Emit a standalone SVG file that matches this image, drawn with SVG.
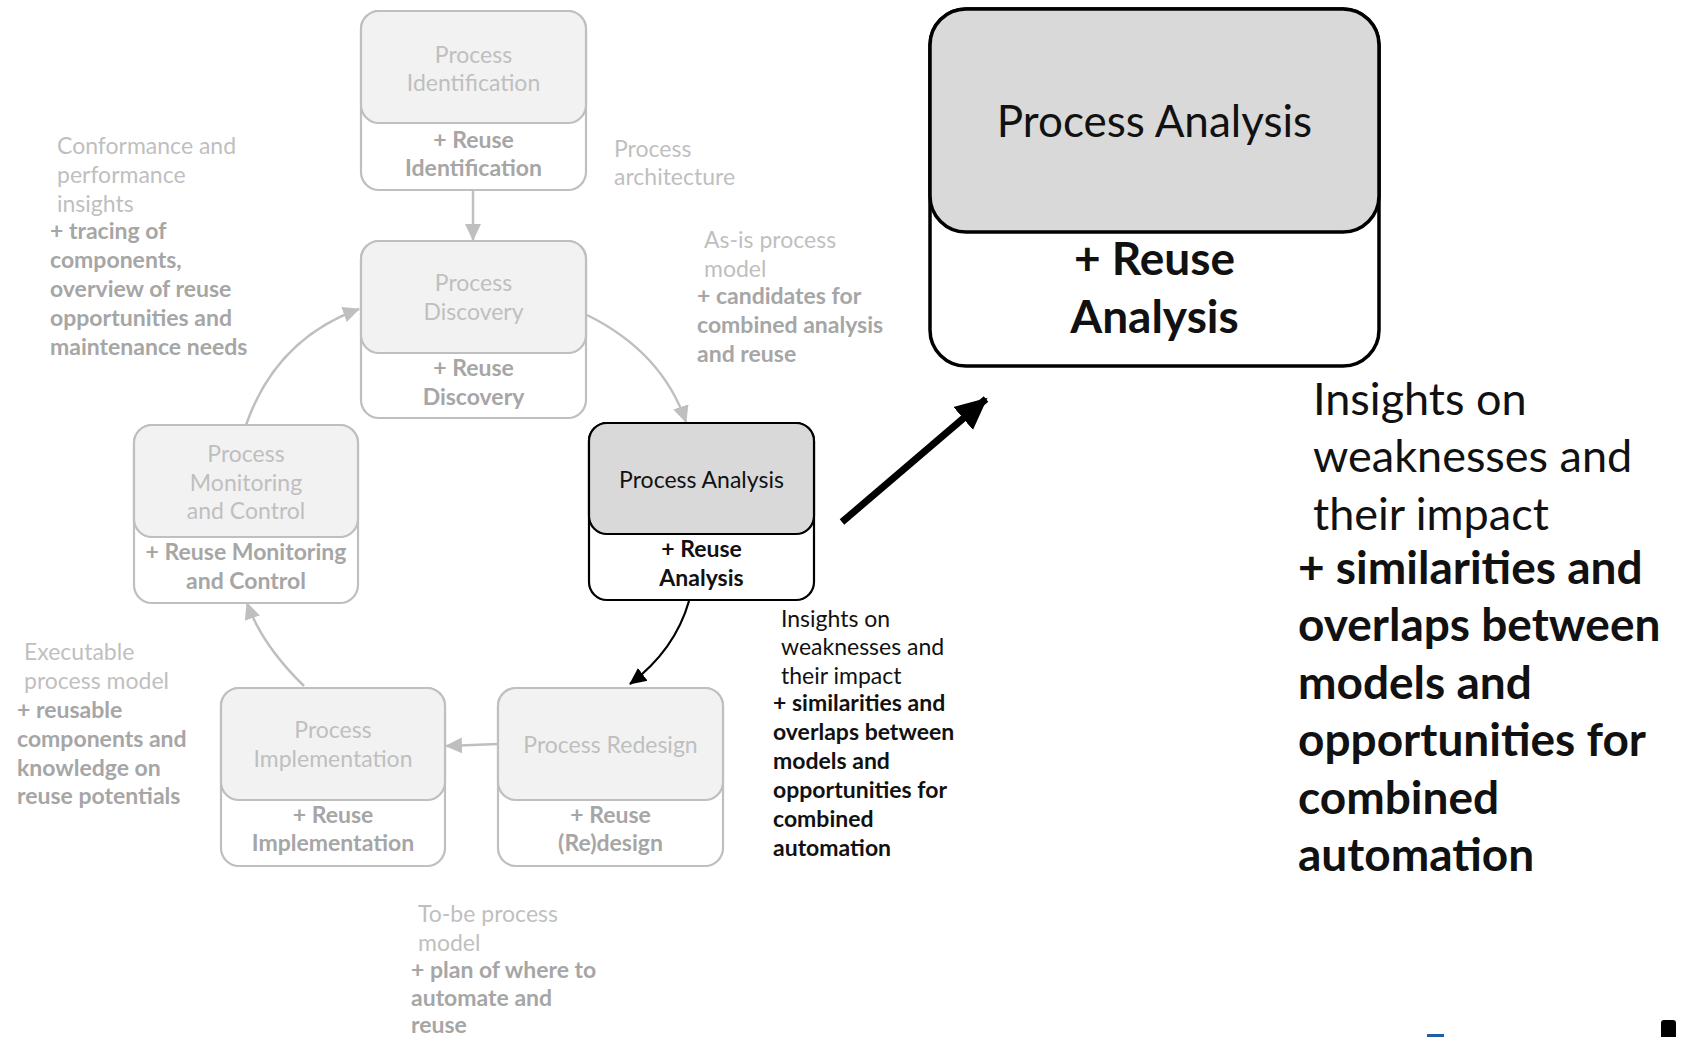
<svg xmlns="http://www.w3.org/2000/svg" width="1686" height="1037" viewBox="0 0 1686 1037">
  <style>
    .t { font-family: Lato, "Liberation Sans", sans-serif; font-size: 23px; }
    .tb { font-family: Lato, "Liberation Sans", sans-serif; font-size: 23px; font-weight: bold; }
    .big { font-family: Lato, "Liberation Sans", sans-serif; font-size: 45px; }
    .title { font-family: Lato, "Liberation Sans", sans-serif; font-size: 44px; }
    .bigb { font-family: Lato, "Liberation Sans", sans-serif; font-size: 46px; font-weight: bold; }
    .lg { fill: #bfbfbf; }
    .dg { fill: #a6a6a6; }
    .blk { fill: #111111; }
    .mid { text-anchor: middle; }
    .outer { fill: #ffffff; stroke: #bfbfbf; stroke-width: 2.2; }
    .inner { fill: #f2f2f2; stroke: #bfbfbf; stroke-width: 2.2; }
    .outerA { fill: #ffffff; stroke: #000000; stroke-width: 2.2; }
    .innerA { fill: #d9d9d9; stroke: #000000; stroke-width: 2.2; }
    .outerB { fill: #ffffff; stroke: #000000; stroke-width: 3.5; }
    .innerB { fill: #d9d9d9; stroke: #000000; stroke-width: 3.5; }
    .conn { fill: none; stroke: #bfbfbf; stroke-width: 2.5; }
    .connK { fill: none; stroke: #000000; stroke-width: 2.2; }
  </style>
  <defs>
    <marker id="arrG" markerUnits="userSpaceOnUse" markerWidth="18" markerHeight="18" refX="16" refY="9" orient="auto">
      <path d="M0,1 L17,9 L0,17 Z" fill="#bfbfbf"/>
    </marker>
    <marker id="arrK" markerUnits="userSpaceOnUse" markerWidth="18" markerHeight="18" refX="16" refY="9" orient="auto">
      <path d="M0,1 L17,9 L0,17 Z" fill="#000000"/>
    </marker>
    <marker id="arrBig" markerUnits="userSpaceOnUse" markerWidth="34" markerHeight="34" refX="30" refY="17" orient="auto">
      <path d="M0,2 L32,17 L0,32 Z" fill="#000000"/>
    </marker>
  </defs>

  <rect width="1686" height="1037" fill="#ffffff"/>

  <!-- connectors of the lifecycle -->
  <g id="connectors">
    <path class="conn" d="M473,190 L473,240" marker-end="url(#arrG)"/>
    <path class="conn" d="M587,315 Q662,352 686,422" marker-end="url(#arrG)"/>
    <path class="connK" d="M689,601 Q675,650 630,684" marker-end="url(#arrK)"/>
    <path class="conn" d="M498,744 L446,746" marker-end="url(#arrG)"/>
    <path class="conn" d="M304,686 Q262,645 247,603" marker-end="url(#arrG)"/>
    <path class="conn" d="M246,425 Q276,339 359,309" marker-end="url(#arrG)"/>
    <path fill="none" stroke="#000000" stroke-width="7" d="M842,522 L986,399" marker-end="url(#arrBig)"/>
  </g>

  <!-- lifecycle phases -->
  <g id="node-identification">
    <rect class="outer" x="361" y="11" width="225" height="179" rx="18"/>
    <rect class="inner" x="361" y="11" width="225" height="112" rx="18"/>
    <text class="t lg mid" x="473.5" y="63">Process</text>
    <text class="t lg mid" x="473.5" y="91">Identification</text>
    <text class="tb dg mid" x="473.5" y="148">+ Reuse</text>
    <text class="tb dg mid" x="473.5" y="176">Identification</text>
  </g>

  <g id="node-discovery">
    <rect class="outer" x="361" y="241" width="225" height="177" rx="18"/>
    <rect class="inner" x="361" y="241" width="225" height="112" rx="18"/>
    <text class="t lg mid" x="473.5" y="291">Process</text>
    <text class="t lg mid" x="473.5" y="320">Discovery</text>
    <text class="tb dg mid" x="473.5" y="376">+ Reuse</text>
    <text class="tb dg mid" x="473.5" y="405">Discovery</text>
  </g>

  <g id="node-monitoring">
    <rect class="outer" x="134" y="425" width="224" height="178" rx="18"/>
    <rect class="inner" x="134" y="425" width="224" height="112" rx="18"/>
    <text class="t lg mid" x="246" y="462">Process</text>
    <text class="t lg mid" x="246" y="491">Monitoring</text>
    <text class="t lg mid" x="246" y="519">and Control</text>
    <text class="tb dg mid" x="246" y="560">+ Reuse Monitoring</text>
    <text class="tb dg mid" x="246" y="589">and Control</text>
  </g>

  <g id="node-analysis">
    <rect class="outerA" x="589" y="423" width="225" height="177" rx="18"/>
    <rect class="innerA" x="589" y="423" width="225" height="111" rx="18"/>
    <text class="t blk mid" x="701.5" y="488">Process Analysis</text>
    <text class="tb blk mid" x="701.5" y="557">+ Reuse</text>
    <text class="tb blk mid" x="701.5" y="586">Analysis</text>
  </g>

  <g id="node-implementation">
    <rect class="outer" x="221" y="688" width="224" height="178" rx="18"/>
    <rect class="inner" x="221" y="688" width="224" height="112" rx="18"/>
    <text class="t lg mid" x="333" y="738">Process</text>
    <text class="t lg mid" x="333" y="767">Implementation</text>
    <text class="tb dg mid" x="333" y="823">+ Reuse</text>
    <text class="tb dg mid" x="333" y="851">Implementation</text>
  </g>

  <g id="node-redesign">
    <rect class="outer" x="498" y="688" width="225" height="178" rx="18"/>
    <rect class="inner" x="498" y="688" width="225" height="112" rx="18"/>
    <text class="t lg mid" x="610.5" y="753">Process Redesign</text>
    <text class="tb dg mid" x="610.5" y="823">+ Reuse</text>
    <text class="tb dg mid" x="610.5" y="851">(Re)design</text>
  </g>

  <!-- outputs between phases -->
  <g id="label-architecture">
    <text class="t lg" x="614" y="157">Process</text>
    <text class="t lg" x="614" y="185">architecture</text>
  </g>

  <g id="label-conformance">
    <text class="t lg" x="57" y="154">Conformance and</text>
    <text class="t lg" x="57" y="183">performance</text>
    <text class="t lg" x="57" y="212">insights</text>
    <text class="tb dg" x="50" y="239">+ tracing of</text>
    <text class="tb dg" x="50" y="268">components,</text>
    <text class="tb dg" x="50" y="297">overview of reuse</text>
    <text class="tb dg" x="50" y="326">opportunities  and</text>
    <text class="tb dg" x="50" y="355">maintenance needs</text>
  </g>

  <g id="label-asis">
    <text class="t lg" x="704" y="248">As-is process</text>
    <text class="t lg" x="704" y="277">model</text>
    <text class="tb dg" x="697" y="304">+ candidates for</text>
    <text class="tb dg" x="697" y="333">combined analysis</text>
    <text class="tb dg" x="697" y="362">and reuse</text>
  </g>

  <g id="label-insights">
    <text class="t blk" x="781" y="627">Insights on</text>
    <text class="t blk" x="781" y="655">weaknesses and</text>
    <text class="t blk" x="781" y="684">their impact</text>
    <text class="tb blk" x="773" y="711">+ similarities  and</text>
    <text class="tb blk" x="773" y="740">overlaps between</text>
    <text class="tb blk" x="773" y="769">models and</text>
    <text class="tb blk" x="773" y="798">opportunities  for</text>
    <text class="tb blk" x="773" y="827">combined</text>
    <text class="tb blk" x="773" y="856">automation</text>
  </g>

  <g id="label-executable">
    <text class="t lg" x="24" y="660">Executable</text>
    <text class="t lg" x="24" y="689">process model</text>
    <text class="tb dg" x="17" y="718">+ reusable</text>
    <text class="tb dg" x="17" y="747">components and</text>
    <text class="tb dg" x="17" y="776">knowledge on</text>
    <text class="tb dg" x="17" y="804">reuse potentials</text>
  </g>

  <g id="label-tobe">
    <text class="t lg" x="418" y="922">To-be process</text>
    <text class="t lg" x="418" y="951">model</text>
    <text class="tb dg" x="411" y="978">+ plan of where to</text>
    <text class="tb dg" x="411" y="1006">automate and</text>
    <text class="tb dg" x="411" y="1033">reuse</text>
  </g>

  <!-- enlarged analysis phase -->
  <g id="node-analysis-detail">
    <rect class="outerB" x="930" y="9" width="449" height="357" rx="36"/>
    <rect class="innerB" x="930" y="9" width="449" height="223" rx="36"/>
    <text class="title blk mid" x="1154.5" y="137">Process Analysis</text>
    <text class="bigb blk mid" x="1154.5" y="275">+ Reuse</text>
    <text class="bigb blk mid" x="1154.5" y="333">Analysis</text>
  </g>

  <g id="label-insights-detail">
    <text class="big blk" x="1313" y="415">Insights on</text>
    <text class="big blk" x="1313" y="472">weaknesses and</text>
    <text class="big blk" x="1313" y="530">their impact</text>
    <text class="bigb blk" x="1298" y="584">+ similarities  and</text>
    <text class="bigb blk" x="1298" y="641">overlaps between</text>
    <text class="bigb blk" x="1298" y="699">models and</text>
    <text class="bigb blk" x="1298" y="756">opportunities  for</text>
    <text class="bigb blk" x="1298" y="814">combined</text>
    <text class="bigb blk" x="1298" y="871">automation</text>
  </g>

  <!-- marks cut by the lower edge -->
  <rect x="1427" y="1034" width="17" height="3" fill="#1f5fa8"/>
  <rect x="1661" y="1020" width="15" height="20" rx="3" fill="#000000"/>
</svg>
